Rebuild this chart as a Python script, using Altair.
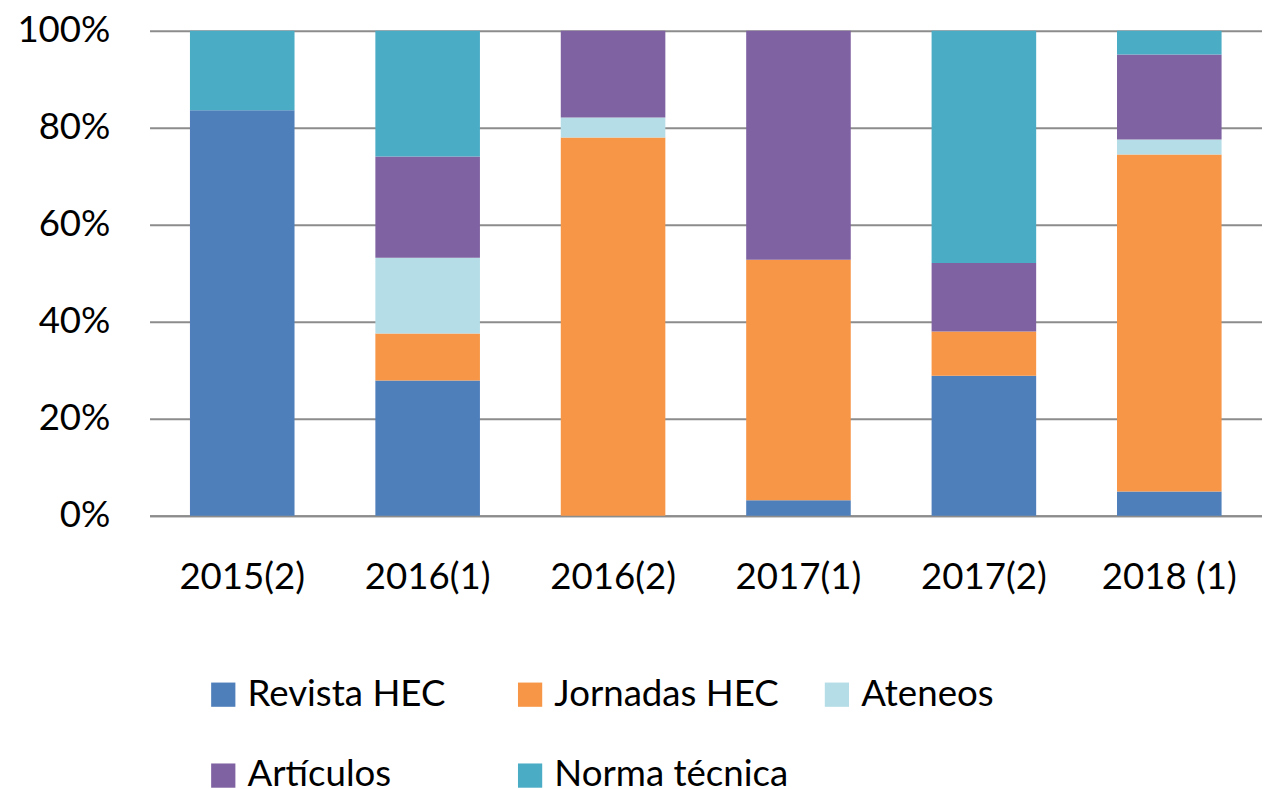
import altair as alt
import pandas as pd

periods = ["2015(2)", "2016(1)", "2016(2)", "2017(1)", "2017(2)", "2018 (1)"]
series = ["Revista HEC", "Jornadas HEC", "Ateneos", "Artículos", "Norma técnica"]
colors = ["#4F7FBB", "#F79646", "#B5DDE7", "#7F62A1", "#4BACC6"]

revista = [83.6, 27.9, 0.0, 3.2, 28.9, 5.0]
jornadas = [0.0, 9.7, 78.0, 49.6, 9.1, 69.5]
ateneos = [0.0, 15.6, 4.1, 0.0, 0.0, 3.1]
articulos = [0.0, 20.9, 17.9, 47.2, 14.1, 17.5]
norma = [16.4, 25.9, 0.0, 0.0, 47.9, 4.9]

values = [revista, jornadas, ateneos, articulos, norma]
rows = []
for si, (name, vals) in enumerate(zip(series, values)):
    for p, v in zip(periods, vals):
        rows.append({"period": p, "series": name, "value": v, "order": si})
df = pd.DataFrame(rows)

FONT = "Lato"

chart = alt.Chart(df).mark_bar().encode(
    x=alt.X("period:N", sort=periods, title=None,
            scale=alt.Scale(paddingInner=0.436, paddingOuter=0.218),
            axis=alt.Axis(labelAngle=0, labelFontSize=37, labelFont=FONT, labelColor="#000000",
                          labelPadding=44, ticks=False, domain=True, domainColor="#8c8c8c",
                          domainWidth=2, grid=False)),
    y=alt.Y("value:Q", stack="normalize", title=None,
            scale=alt.Scale(domain=[0, 1], nice=False),
            axis=alt.Axis(values=[0, 0.2, 0.4, 0.6, 0.8, 1.0], format=".0%",
                          labelFontSize=37, labelFont=FONT, labelColor="#000000",
                          labelPadding=40, ticks=False, domain=False,
                          gridColor="#8c8c8c", gridWidth=2)),
    color=alt.Color("series:N", scale=alt.Scale(domain=series, range=colors),
                    legend=alt.Legend(title=None, orient="none", legendX=56, legendY=652,
                                      direction="horizontal", columns=3, gridAlign="all",
                                      symbolType="square", symbolSize=600, symbolStrokeWidth=0,
                                      labelFontSize=37, labelFont=FONT, labelColor="#000000",
                                      labelOffset=6, labelLimit=500, columnPadding=30,
                                      rowPadding=44, symbolOpacity=1, padding=0)),
    order=alt.Order("order:Q", sort="ascending"),
).properties(
    width=1124, height=490,
    padding={"left": 143, "top": 19, "right": 0, "bottom": 272},
    autosize=alt.AutoSizeParams(type="none"),
).configure_view(stroke=None)

chart.save("out.html", embed_options={"renderer": "svg", "actions": False})
